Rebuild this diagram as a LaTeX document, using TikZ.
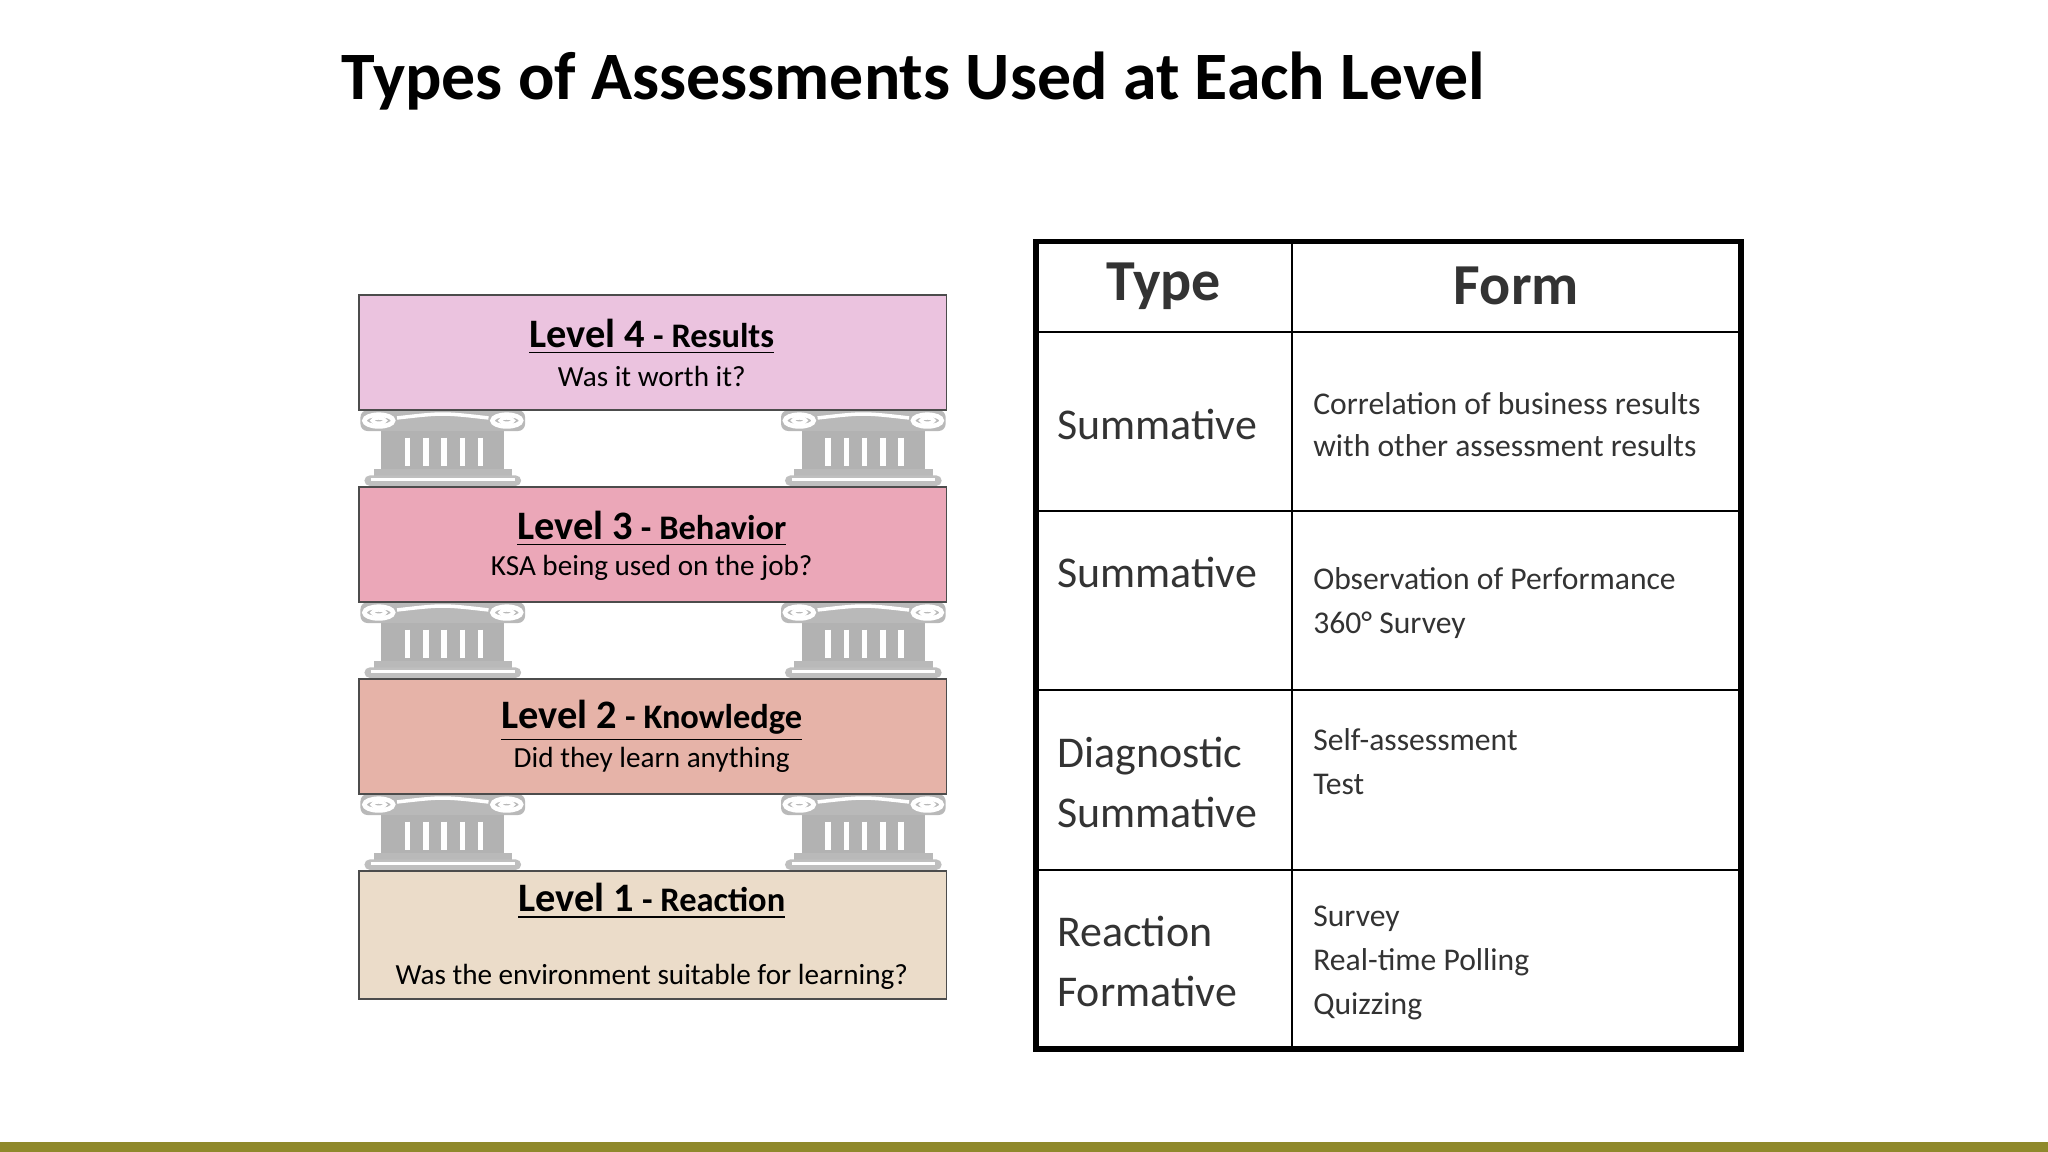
\documentclass[tikz,border=0pt]{standalone}
\usepackage{fontspec}
\setmainfont{Carlito}
\begin{document}
\begin{tikzpicture}[x=0.0130612cm,y=-0.0130612cm,
  lvl/.style={draw=black!70,line width=0.5pt,anchor=north west,minimum width=450*0.0130612cm},
  hdr/.style={font=\fontsize{16.5}{18}\selectfont\bfseries,text=black!80},
  typ/.style={anchor=west,font=\fontsize{12.5}{18}\selectfont,text=black!80,align=left},
  frm/.style={anchor=west,font=\fontsize{9}{12}\selectfont,text=black!80,align=left},
  pillar/.pic={
    \fill[gray!55,rounded corners=2pt] (0,1) rectangle (126,17);
    \draw[white,line width=1.3pt] (14,9) ellipse (11 and 4.5) (112,9) ellipse (11 and 4.5);
    \draw[white,line width=1pt] (14,9) ellipse (5 and 2) (112,9) ellipse (5 and 2);
    \draw[white,line width=1pt] (28,7) .. controls (63,3) .. (98,7);
    \fill[gray!60] (16,17) rectangle (110,48);
    \foreach \xx in {36,50,64,78,92}{\draw[white,line width=1.6pt] (\xx,22) -- (\xx,44);}
    \fill[gray!55] (10,46) rectangle (116,52);
    \fill[gray!50,rounded corners=1.5pt] (3,51) rectangle (123,59);
    \draw[white,line width=1pt] (8,54) -- (118,54);
  }]
\useasboundingbox (0,0) rectangle (1568,882);
\fill[white] (0,0) rectangle (1568,882);
\fill[olive!70!gray] (0,874) rectangle (1568,882);
\node[anchor=west,font=\fontsize{19.3}{24}\selectfont\bfseries] (title) at (252,62) {Types of Assessments Used at Each Level};
\foreach \yy in {313,460,607}{
  \pic at (276,\yy) {pillar};
  \pic at (598,\yy) {pillar};
}
\node[lvl,fill={rgb,255:red,235;green,195;blue,223},minimum height=88*0.0130612cm] (l4) at (274,225) {};
\node[lvl,fill={rgb,255:red,235;green,167;blue,184},minimum height=88*0.0130612cm] (l3) at (274,372) {};
\node[lvl,fill={rgb,255:red,230;green,179;blue,168},minimum height=88*0.0130612cm] (l2) at (274,519) {};
\node[lvl,fill={rgb,255:red,235;green,220;blue,201},minimum height=98*0.0130612cm] (l1) at (274,666) {};
\newcommand{\lvtitle}[2]{\bfseries\underline{{\fontsize{11.5}{12}\selectfont #1} {\fontsize{9.8}{12}\selectfont - #2}}}
\node (t4) at (499,258) {\lvtitle{Level 4}{Results}};
\node[font=\fontsize{8.3}{10}\selectfont] (s4) at (499,288) {Was it worth it?};
\node (t3) at (499,405) {\lvtitle{Level 3}{Behavior}};
\node[font=\fontsize{8.3}{10}\selectfont] (s3) at (499,435) {KSA being used on the job?};
\node (t2) at (499,552) {\lvtitle{Level 2}{Knowledge}};
\node[font=\fontsize{8.3}{10}\selectfont] (s2) at (499,582) {Did they learn anything};
\node (t1) at (499,690) {\lvtitle{Level 1}{Reaction}};
\node[font=\fontsize{8.3}{10}\selectfont] (s1) at (499,748) {Was the environment suitable for learning?};
\draw[line width=0.6pt] (989,185) -- (989,803);
\foreach \yy in {254,391,528,666}{\draw[line width=0.6pt] (793,\yy) -- (1333,\yy);}
\draw[line width=1.6pt] (793,185) rectangle (1333,803);
\node[hdr] (h1) at (891,219) {Type};
\node[hdr] (h2) at (1161,219) {Form};
\node[typ] (a1) at (800,325) {Summative};
\node[typ] (a2) at (800,438) {Summative};
\node[typ,font=\fontsize{12.5}{17}\selectfont] (a3) at (800,599) {Diagnostic\\Summative};
\node[typ,font=\fontsize{12.5}{17}\selectfont] (a4) at (800,736) {Reaction\\Formative};
\node[frm] (b1) at (996,325) {Correlation of business results\\with other assessment results};
\node[frm,font=\fontsize{9}{12.5}\selectfont] (b2) at (996,462) {Observation of Performance\\360° Survey};
\node[frm,font=\fontsize{9}{12.5}\selectfont] (b3) at (996,583) {Self-assessment\\Test};
\node[frm,font=\fontsize{9}{12.5}\selectfont] (b4) at (996,737) {Survey\\Real-time Polling\\Quizzing};
\end{tikzpicture}
\end{document}
